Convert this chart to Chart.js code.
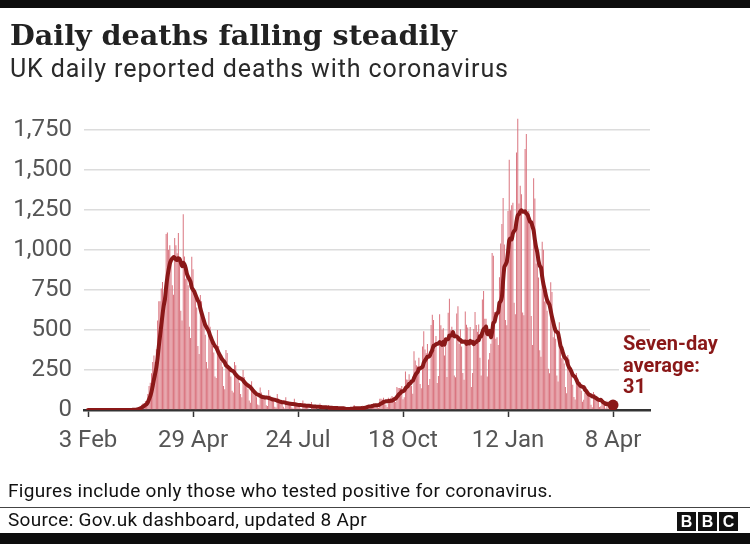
<!DOCTYPE html>
<html lang="en">
<head>
<meta charset="UTF-8">
<title>Daily deaths falling steadily</title>
<script src="https://cdn.jsdelivr.net/npm/chart.js"></script>
<style>
  body { margin: 0; background: #fff; }
  #wrap { position: relative; width: 750px; height: 544px; overflow: hidden; background: #fff; }
  #chart { position: absolute; left: 0; top: 0; }
  .band { position: absolute; left: 0; width: 750px; background: #0d0d0d; }
  .txt { position: absolute; left: 10px; margin: 0; line-height: 1; white-space: nowrap; }
  h1.txt { font-family: "DejaVu Serif", serif; font-weight: bold; font-size: 28.6px; color: #222; top: 21px; }
  h2.txt { font-family: Roboto, sans-serif; font-weight: normal; font-size: 25px; letter-spacing: 0.9px; color: #2a2a2a; top: 56px; }
  .note { font-family: Roboto, sans-serif; font-size: 19px; letter-spacing: 0.3px; color: #111; }
  .rule { position: absolute; left: 0; top: 507px; width: 750px; height: 1px; background: #444; }
  .logo { position: absolute; top: 512px; left: 677px; }
  .logo span { display: inline-block; width: 19px; height: 19px; margin-right: 2px; background: #111; color: #fff;
               font: bold 16px/19px "Liberation Sans", sans-serif; text-align: center; }
</style>
</head>
<body>
<div id="wrap">
  <canvas id="chart" width="750" height="544"></canvas>
  <div class="band" style="top:0;height:8px"></div>
  <h1 class="txt">Daily deaths falling steadily</h1>
  <h2 class="txt">UK daily reported deaths with coronavirus</h2>
  <div class="txt note" style="top:481px;left:8px">Figures include only those who tested positive for coronavirus.</div>
  <div class="rule"></div>
  <div class="txt note" style="top:510px;left:8px">Source: Gov.uk dashboard, updated 8 Apr</div>
  <div class="logo"><span>B</span><span>B</span><span>C</span></div>
  <div class="band" style="top:533px;height:11px"></div>
</div>

<script>
// daily reported deaths, one array per month (first day: 3 Feb 2020)
const feb20 = [0,0,0,0,0,0,0, 0,0,0,0,0,0,0, 0,0,0,0,0,0,0, 0,0,0,0,0,0];
const mar20 = [0, 0,0,0,0,1,1,0, 1,2,2,2,1,11,14, 20,20,33,40,40,56,50, 100,150,170,230,300,340,300, 380,560];
const apr20 = [680,680,760,800,700, 660,1100,1110,1000,1030,950,780, 720,1075,1030,980,1106,920,620,
               560,1224,960,820,860,780,520, 450,958,880,740];
const may20 = [720,640,400, 350,719,680,560,540,470,300, 260,612,520,430,400,360,210,
               200,500,400,330,300,270,150, 130,375,356,280,250,210,120];
const jun20 = [110,300,280,220,200,170,100, 80,250,206,160,150,130,60, 45,180,140,100,90,80,35,
               30,140,110,85,80,70,30, 25,125];
const jul20 = [90,70,60,55,20, 15,100,70,50,45,40,20, 10,80,55,40,35,30,15, 10,70,45,30,25,25,10,
               8,60,40,25,20];
const aug20 = [20,8, 5,50,30,20,18,15,5, 5,40,25,15,15,12,4, 4,30,20,12,12,10,3, 3,25,15,10,10,8,2, 1];
const sep20 = [3,10,12,10,12,2, 3,32,8,14,6,9,5, 9,27,20,21,27,27,18, 11,37,37,40,34,34,17, 13,71,71];
const oct20 = [66,77,49,33, 19,76,70,77,87,81,65, 50,143,137,138,136,150,67, 80,241,191,189,224,174,151,
               102,367,310,280,274,326];
const nov20 = [162, 136,397,492,378,355,413,156, 194,532,595,563,376,462,168, 213,598,529,501,511,341,398,
               206,608,696,498,521,479,215, 205];
const dec20 = [603,648,414,504,397,231, 189,616,533,516,424,519,144, 232,506,612,532,489,534,326,
               215,691,744,570,570,210,316, 357,414,981,964];
const jan21 = [613,445,454, 407,830,1041,1162,1325,1035,563, 529,1243,1564,1248,1280,1295,671,
               599,1610,1820,1290,1401,1348,610, 592,1631,1725,1239,1245,1200,587];
const feb21 = [406,1449,1322,915,1014,828,373, 333,1052,1001,678,758,621,258, 230,799,738,454,533,445,215,
               178,548,442,323,345,290,144];
const mar21 = [104,343,315,242,236,158,82, 65,231,190,175,175,121,52, 64,110,141,95,101,96,33,
               17,112,98,70,63,58,19, 23,56,43];
const apr21 = [51,10,58,10, 9,26,45,59];

const tickDays = [0, 86, 172, 258, 344, 430];
const tickLabels = ['3 Feb', '29 Apr', '24 Jul', '18 Oct', '12 Jan', '8 Apr'];
const yTicks = [0, 250, 500, 750, 1000, 1250, 1500, 1750];

const daily = [].concat(feb20, mar20, apr20, may20, jun20, jul20, aug20, sep20, oct20, nov20, dec20,
                        jan21, feb21, mar21, apr21);
const sevenDay = daily.map((v, i) => daily.slice(Math.max(0, i - 6), i + 1).reduce((a, b) => a + b, 0) / 7);
const last = daily.length - 1;

const darkRed = '#8a1818';

const avgLabel = {
  id: 'avgLabel',
  beforeDatasetsDraw(chart) {
    const pt = chart.getDatasetMeta(1).data[last];
    const ctx = chart.ctx;
    ctx.save();
    ctx.fillStyle = '#fff';
    ctx.fillRect(pt.x + 6, pt.y - 72, chart.chartArea.right - pt.x, 66);
    ctx.restore();
  },
  afterDatasetsDraw(chart) {
    const pt = chart.getDatasetMeta(1).data[last];
    const ctx = chart.ctx;
    ctx.save();
    ctx.fillStyle = darkRed;
    ctx.font = 'bold 20px Roboto, sans-serif';
    ctx.textBaseline = 'middle';
    ['Seven-day', 'average:', String(Math.round(sevenDay[last]))].forEach((s, i) => {
      ctx.fillText(s, pt.x + 10, pt.y - 60 + i * 21.5);
    });
    ctx.restore();
  }
};

new Chart(document.getElementById('chart'), {
  type: 'bar',
  data: {
    datasets: [{
      type: 'bar',
      data: daily.map((v, i) => ({ x: i, y: v })),
      backgroundColor: '#d9727d',
      barPercentage: 0.8,
      categoryPercentage: 1,
      order: 2
    }, {
      type: 'line',
      data: sevenDay.map((v, i) => ({ x: i, y: v })),
      borderColor: darkRed,
      backgroundColor: darkRed,
      borderWidth: 4,
      borderCapStyle: 'round',
      borderJoinStyle: 'round',
      tension: 0.2,
      pointRadius: ctx => ctx.dataIndex === last ? 5.5 : 0,
      pointBackgroundColor: darkRed,
      pointBorderWidth: 0,
      order: 1
    }]
  },
  options: {
    responsive: false,
    animation: false,
    devicePixelRatio: 1,
    layout: { padding: { top: 106, right: 100, left: 0, bottom: 0 } },
    plugins: { legend: { display: false }, tooltip: { enabled: false } },
    scales: {
      x: {
        type: 'linear',
        min: -3.28,
        max: 460.3,
        offset: false,
        afterBuildTicks: s => { s.ticks = tickDays.map(v => ({ value: v })); },
        afterFit: s => { s.height = 134; },
        ticks: {
          autoSkip: false,
          maxRotation: 0,
          padding: 10,
          color: '#555',
          font: { family: 'Roboto', size: 24 },
          callback: v => tickLabels[tickDays.indexOf(v)]
        },
        grid: { offset: false, drawOnChartArea: false, drawTicks: true, tickLength: 7, tickColor: '#333', tickWidth: 1.5 },
        border: { display: true, color: '#333', width: 2.5 }
      },
      y: {
        min: 0,
        max: 1900,
        afterBuildTicks: s => { s.ticks = yTicks.map(v => ({ value: v })); },
        afterFit: s => { s.width = 84; },
        ticks: {
          padding: 12,
          color: '#555',
          font: { family: 'Roboto', size: 24 },
          callback: v => v.toLocaleString('en-GB')
        },
        grid: { color: '#dcdcdc', lineWidth: 1.5, drawTicks: false },
        border: { display: false }
      }
    }
  },
  plugins: [avgLabel]
});
</script>
</body>
</html>
